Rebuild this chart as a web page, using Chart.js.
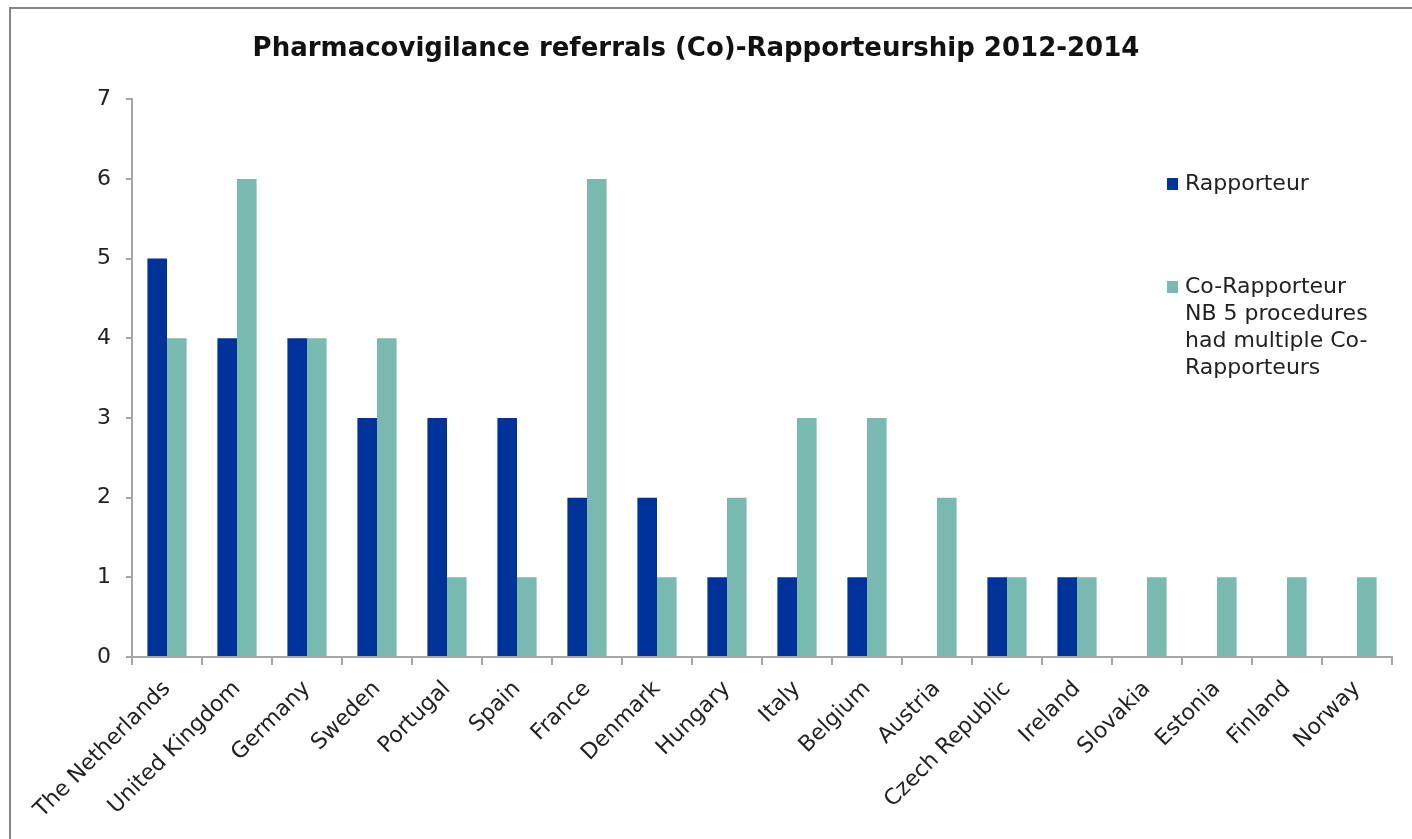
<!DOCTYPE html>
<html>
<head>
<meta charset="utf-8">
<script src="https://cdn.jsdelivr.net/npm/chart.js@4.4.0/dist/chart.umd.min.js"></script>
<style>
    html, body { margin: 0; padding: 0; background: #fff; overflow: hidden; }
    #wrap { position: relative; width: 1412px; height: 839px; }
    #frame {
        position: absolute; left: 9px; top: 7px; width: 1500px; height: 1000px;
        border-top: 2px solid #858585; border-left: 2px solid #858585;
        pointer-events: none;
    }
</style>
</head>
<body>
<div id="wrap">
    <canvas id="referralChart"></canvas>
    <div id="frame"></div>
</div>
<script>
// Pharmacovigilance referrals per member state, 2012-2014
const countries = [
    'The Netherlands', 'United Kingdom', 'Germany', 'Sweden', 'Portugal', 'Spain',
    'France', 'Denmark', 'Hungary', 'Italy', 'Belgium', 'Austria',
    'Czech Republic', 'Ireland', 'Slovakia', 'Estonia', 'Finland', 'Norway',
];
const rapporteur   = [5, 4, 4, 3, 3, 3, 2, 2, 1, 1, 1, 0, 1, 1, 0, 0, 0, 0];
const coRapporteur = [4, 6, 4, 4, 1, 1, 6, 1, 2, 3, 3, 2, 1, 1, 1, 1, 1, 1];

const yTicks = [0, 1, 2, 3, 4, 5, 6, 7];

// legend text, one entry per line
const rapporteurLegend = ['Rapporteur'];
const coRapporteurLegend = ['Co-Rapporteur', 'NB 5 procedures', 'had multiple Co-', 'Rapporteurs'];

const BLUE = '#003399';
const TEAL = '#7ab9af';
const AXIS = '#a6a6a6';
const TEXT = '#222';
const FONT = "'DejaVu Sans', Verdana, sans-serif";

// legend sits inside the plot area on the right, drawn by hand
const sideLegend = {
    id: 'sideLegend',
    afterDraw(chart) {
        const ctx = chart.ctx;
        const entries = [
            {lines: rapporteurLegend, color: BLUE, y: 184},
            {lines: coRapporteurLegend, color: TEAL, y: 287},
        ];
        ctx.save();
        ctx.font = `22px ${FONT}`;
        ctx.textBaseline = 'middle';
        ctx.textAlign = 'left';
        entries.forEach((e) => {
            ctx.fillStyle = e.color;
            ctx.fillRect(1167, e.y - 6, 11, 12);
            ctx.fillStyle = TEXT;
            e.lines.forEach((line, i) => {
                ctx.fillText(line, 1185, e.y + i * 27);
            });
        });
        ctx.restore();
    }
};

new Chart(document.getElementById('referralChart').getContext('2d'), {
    type: 'bar',
    data: {
        labels: countries,
        datasets: [{
            label: rapporteurLegend.join(' '),
            data: rapporteur,
            backgroundColor: BLUE,
            borderWidth: 0,
            barPercentage: 1,
            categoryPercentage: 0.56,
        }, {
            label: coRapporteurLegend.join(' '),
            data: coRapporteur,
            backgroundColor: TEAL,
            borderWidth: 0,
            barPercentage: 1,
            categoryPercentage: 0.56,
        }]
    },
    options: {
        responsive: true,
        maintainAspectRatio: false,
        animation: false,
        layout: {
            padding: {left: 0, right: 20, top: 0, bottom: 0}
        },
        plugins: {
            title: {
                display: true,
                text: 'Pharmacovigilance referrals (Co)-Rapporteurship 2012-2014',
                color: '#111',
                font: {family: FONT, size: 26, weight: 'bold'},
                padding: {top: 34, bottom: 34},
            },
            legend: {display: false},
            tooltip: {enabled: false},
        },
        scales: {
            y: {
                min: 0,
                max: 7,
                afterFit: (scale) => { scale.width = 132; },
                afterBuildTicks: (scale) => {
                    scale.ticks = yTicks.map((v) => ({value: v}));
                },
                border: {color: AXIS, width: 2},
                grid: {
                    drawOnChartArea: false,
                    drawTicks: true,
                    tickLength: 6,
                    color: AXIS,
                    lineWidth: 2,
                },
                ticks: {
                    color: TEXT,
                    font: {family: FONT, size: 22},
                    padding: 15,
                },
            },
            x: {
                afterFit: (scale) => { scale.height = 182; },
                border: {color: AXIS, width: 2},
                grid: {
                    drawOnChartArea: false,
                    drawTicks: true,
                    tickLength: 8,
                    color: AXIS,
                    lineWidth: 2,
                },
                ticks: {
                    color: TEXT,
                    font: {family: FONT, size: 22},
                    minRotation: 45,
                    maxRotation: 45,
                    autoSkip: false,
                    padding: 11,
                },
            },
        },
    },
    plugins: [sideLegend],
});
</script>
</body>
</html>
